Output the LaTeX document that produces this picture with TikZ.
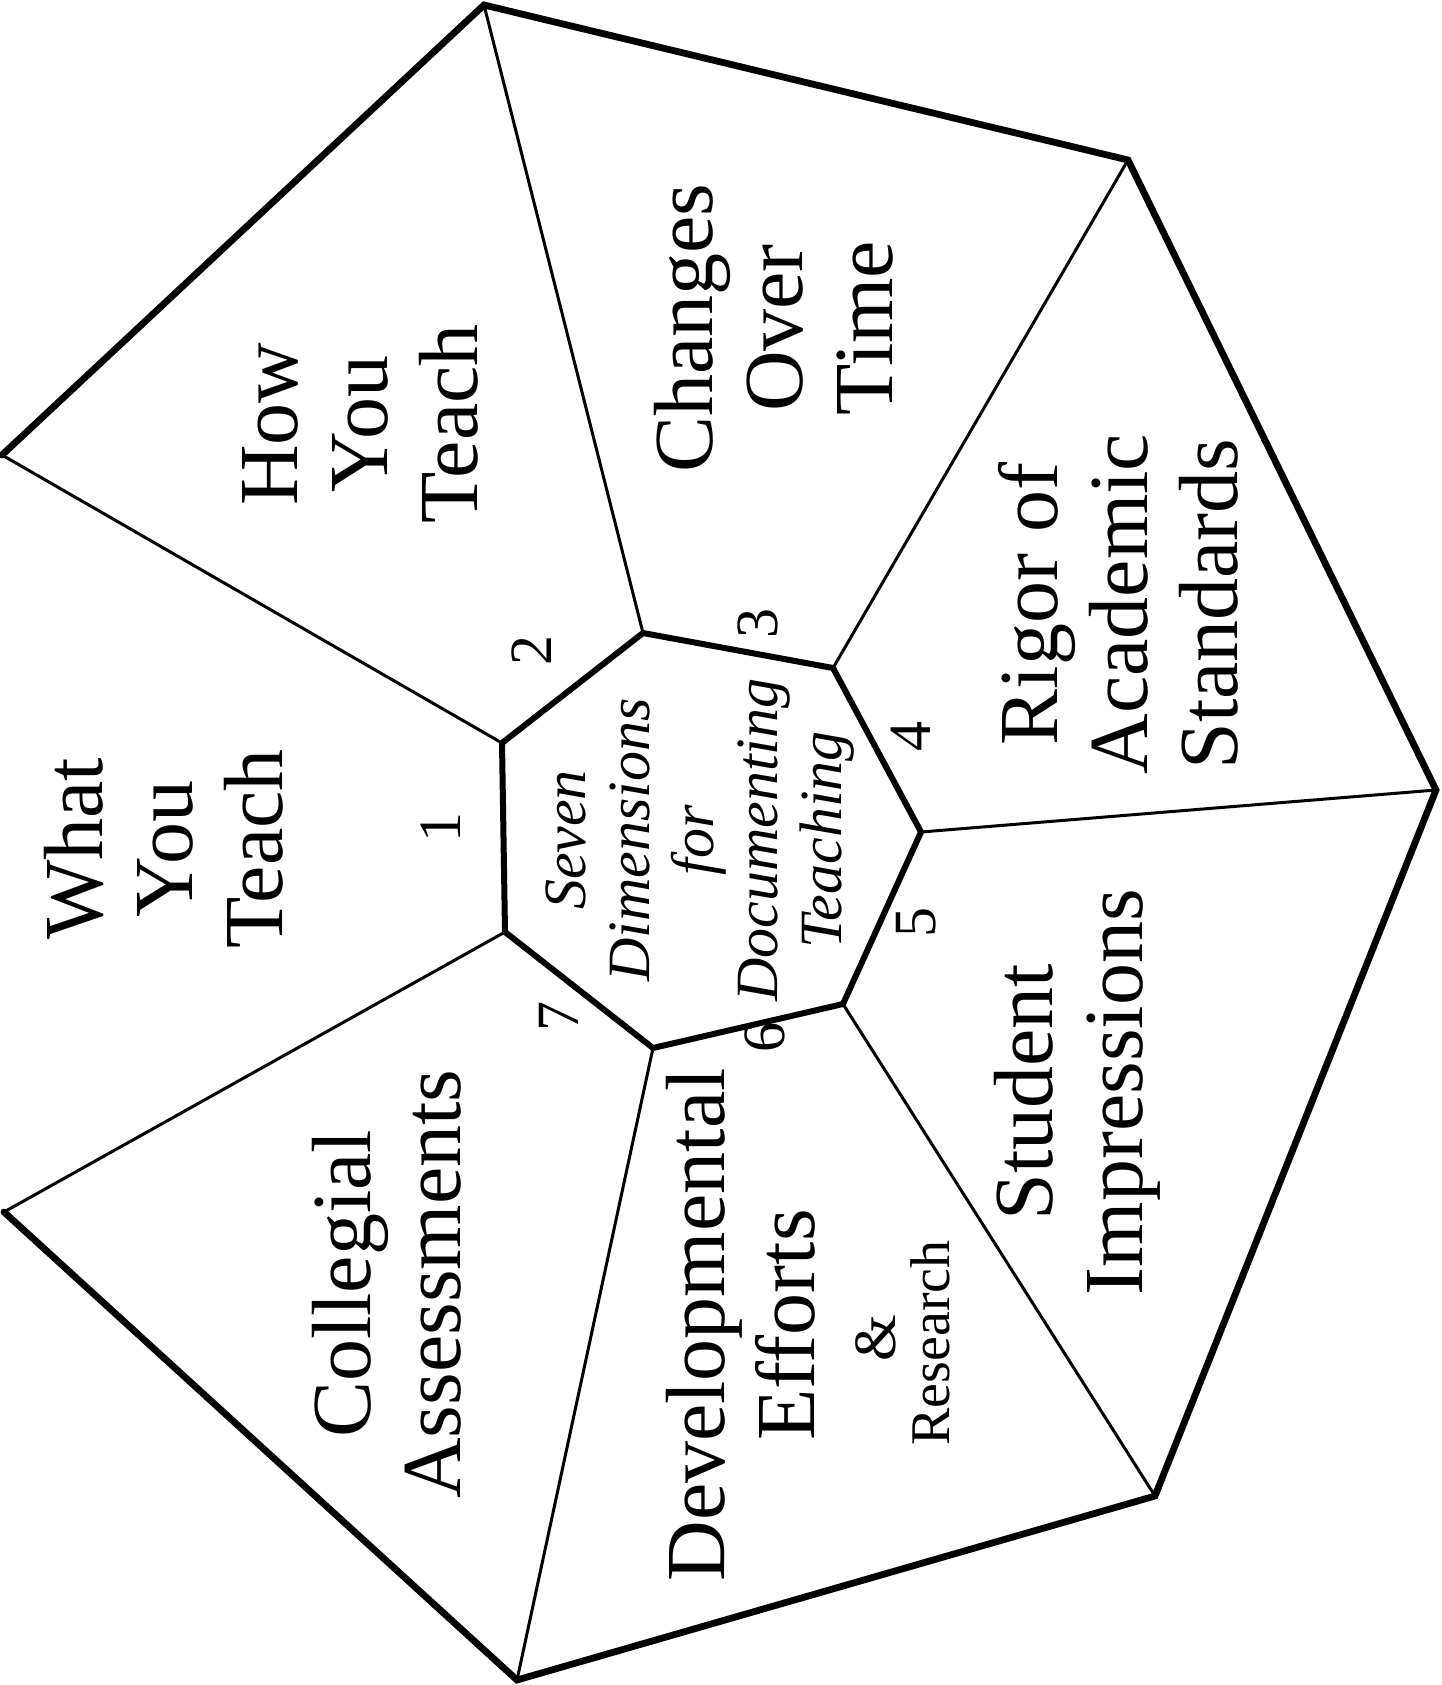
\documentclass[tikz,border=0pt]{standalone}
\usepackage{fontspec}
\setmainfont{Liberation Serif}
\begin{document}
\begin{tikzpicture}[x=0.5pt,y=-0.5pt,
  outer/.style={line width=3.4pt, line join=miter, line cap=round},
  inner/.style={line width=3pt, line join=miter},
  spoke/.style={line width=1.5pt},
  biglabel/.style={rotate=90, align=center, inner sep=0pt, font=\fontsize{42}{45}\selectfont},
  numlabel/.style={rotate=90, inner sep=0pt, font=\fontsize{30}{32}\selectfont},
  centerlabel/.style={rotate=90, align=center, inner sep=0pt, font=\itshape\fontsize{30}{32}\selectfont}]
\useasboundingbox (0,0) rectangle (1441,1685);
% outer vertices
\coordinate (A) at (484,5);
\coordinate (B) at (1128,160);
\coordinate (C) at (1436,790);
\coordinate (D) at (1155,1496);
\coordinate (E) at (517,1680);
\coordinate (F) at (4,1212);
\coordinate (G) at (2,455);
% inner vertices
\coordinate (ia) at (502,743);
\coordinate (ib) at (643,633);
\coordinate (ic) at (833,668);
\coordinate (id) at (921,832);
\coordinate (ie) at (843,1004);
\coordinate (if) at (653,1048);
\coordinate (ig) at (505,932);
% spokes
\draw[spoke] (ia) -- (G);
\draw[spoke] (ib) -- (A);
\draw[spoke] (ic) -- (B);
\draw[spoke] (id) -- (C);
\draw[spoke] (ie) -- (D);
\draw[spoke] (if) -- (E);
\draw[spoke] (ig) -- (F);
% outer border (open on the left)
\draw[outer] (G) -- (A) -- (B) -- (C) -- (D) -- (E) -- (F);
% inner heptagon
\draw[inner] (ia) -- (ib) -- (ic) -- (id) -- (ie) -- (if) -- (ig) -- cycle;
% labels
\node[biglabel] (what) at (164,849) {What\\You\\Teach};
\node[biglabel] (how) at (360,424) {How\\You\\Teach};
\node[biglabel] (changes) at (774,328) {Changes\\Over\\Time};
\node[biglabel] (rigor) at (1118,604) {Rigor of\\Academic\\Standards};
\node[biglabel] (student) at (1077,1092) {Student\\Impressions};
\node[biglabel] (collegial) at (387,1284) {Collegial\\Assessments};
\node[biglabel] (devel) at (741,1325) {Developmental\\Efforts};
\node[rotate=90, inner sep=0pt, font=\fontsize{30}{32}\selectfont] (amp) at (876,1338) {\&};
\node[rotate=90, inner sep=0pt, font=\fontsize{28}{30}\selectfont] (research) at (930,1343) {Research};
\node[centerlabel] (center) at (700,840) {Seven\\Dimensions\\for\\Documenting\\Teaching};
% numbers
\node[numlabel] (n1) at (441,827) {1};
\node[numlabel] (n2) at (532,650) {2};
\node[numlabel] (n3) at (758,623) {3};
\node[numlabel] (n4) at (911,736) {4};
\node[numlabel] (n5) at (916,922) {5};
\node[numlabel] (n6) at (765,1037) {6};
\node[numlabel] (n7) at (559,1016) {7};
\end{tikzpicture}
\end{document}
